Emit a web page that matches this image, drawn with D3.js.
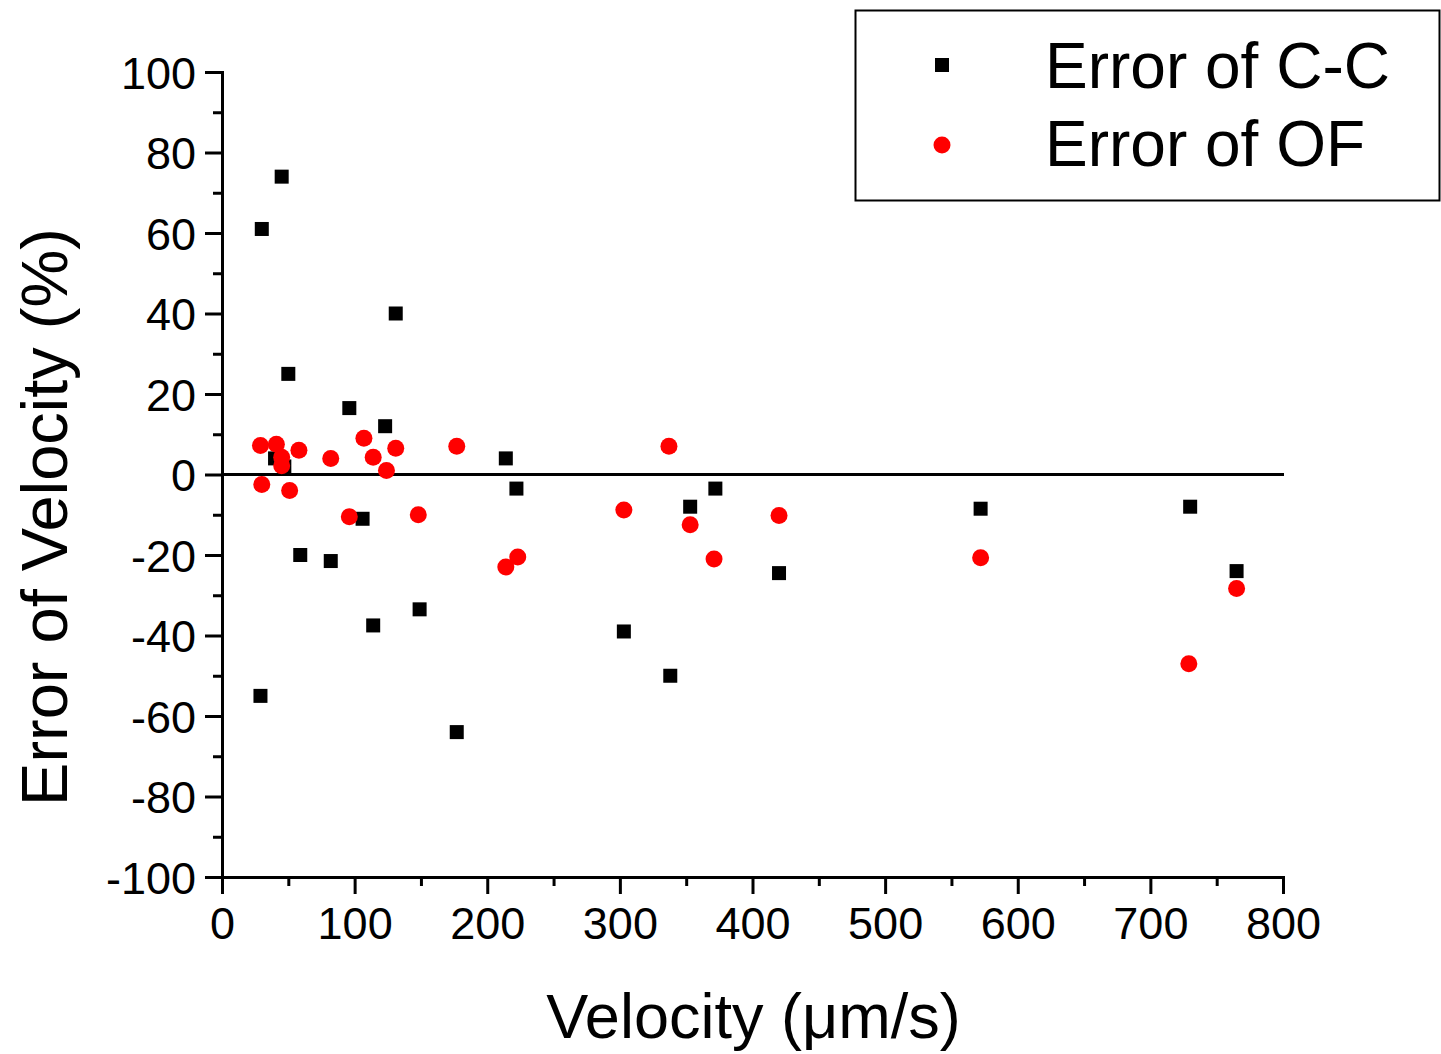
<!DOCTYPE html>
<html>
<head>
<meta charset="utf-8">
<script src="https://cdn.jsdelivr.net/npm/d3@7"></script>
<style>
  body { margin: 0; background: #fff; }
  text { font-family: "Liberation Sans", Arial, sans-serif; }
</style>
</head>
<body>
<script>
// data
var ccVelocity = [30, 45, 131, 50, 96, 123, 40, 47, 214, 222, 106, 59, 82, 114, 149, 29, 177, 303, 338, 353, 372, 420, 572, 730, 765];
var ccError    = [61, 74, 40, 25, 16.5, 12, 4, 2, 4, -3.5, -11, -20, -21.5, -37.5, -33.5, -55, -64, -39, -50, -8, -3.5, -24.5, -8.5, -8, -24];

var ofVelocity = [29, 41, 45, 45, 58, 82, 107, 114, 124, 131, 177, 30, 51, 96, 148, 337, 303, 353, 420, 223, 214, 371, 572, 729, 765];
var ofError    = [7.2, 7.5, 4.3, 2.2, 6, 4, 9, 4.3, 1, 6.5, 7, -2.5, -4, -10.5, -10, 7, -8.8, -12.5, -10.2, -20.5, -23, -21, -20.7, -47, -28.3];

var xTicks = [0, 100, 200, 300, 400, 500, 600, 700, 800];
var yTicks = [-100, -80, -60, -40, -20, 0, 20, 40, 60, 80, 100];
var legendLabels = ["Error of C-C", "Error of OF"];

var margin = {top: 72, right: 158, bottom: 177, left: 222},
    width = 1441 - margin.left - margin.right,
    height = 1054 - margin.top - margin.bottom;

var svg = d3.select("body").append("svg")
    .attr("width", 1441)
    .attr("height", 1054);

var g = svg.append("g")
    .attr("transform", "translate(" + margin.left + "," + margin.top + ")");

// scales
var x = d3.scaleLinear().domain([0, 800]).range([0, width]);
var y = d3.scaleLinear().domain([-100, 100]).range([height, 0]);

// minor ticks first, majors on top
g.append("g")
    .attr("class", "axis")
    .attr("transform", "translate(0," + height + ")")
    .call(d3.axisBottom(x).tickValues(d3.range(50, 800, 100)).tickSize(9).tickFormat(""));

g.append("g")
    .attr("class", "axis")
    .call(d3.axisLeft(y).tickValues(d3.range(-90, 100, 20)).tickSize(9).tickFormat(""));

// plain hyphen for negatives, like the original
var plain = function(d) { return String(d); };

var xAxis = g.append("g")
    .attr("class", "axis")
    .attr("transform", "translate(0," + height + ")")
    .call(d3.axisBottom(x).tickValues(xTicks).tickSize(17).tickPadding(12).tickFormat(plain));

var yAxis = g.append("g")
    .attr("class", "axis")
    .call(d3.axisLeft(y).tickValues(yTicks).tickSize(17).tickPadding(9).tickFormat(plain));

g.selectAll(".axis path.domain").attr("stroke", "#000").attr("stroke-width", 3);
g.selectAll(".axis .tick line").attr("stroke", "#000").attr("stroke-width", 3);
g.selectAll(".axis .tick text")
    .style("font-size", "45px")
    .attr("fill", "#000");
yAxis.selectAll(".tick text").attr("dy", "0.36em");
xAxis.selectAll(".tick text").attr("dy", "0.74em");

// zero line
g.append("line")
    .attr("x1", 0).attr("x2", x(800) + 1)
    .attr("y1", y(0)).attr("y2", y(0))
    .attr("stroke", "#000").attr("stroke-width", 3);

// axis titles
svg.append("text")
    .attr("x", margin.left + width / 2 + 1)
    .attr("y", 1038)
    .attr("text-anchor", "middle")
    .style("font-size", "63px")
    .text("Velocity (\u03bcm/s)");

svg.append("text")
    .attr("transform", "translate(67," + 517 + ") rotate(-90)")
    .attr("text-anchor", "middle")
    .style("font-size", "65px")
    .text("Error of Velocity (%)");

// points
var sq = 14;
g.selectAll(".cc")
    .data(ccVelocity)
    .enter().append("rect")
    .attr("class", "cc")
    .attr("x", function(d) { return x(d) - sq / 2; })
    .attr("y", function(d, i) { return y(ccError[i]) - sq / 2; })
    .attr("width", sq).attr("height", sq)
    .attr("fill", "#000");

g.selectAll(".of")
    .data(ofVelocity)
    .enter().append("circle")
    .attr("class", "of")
    .attr("cx", function(d) { return x(d); })
    .attr("cy", function(d, i) { return y(ofError[i]); })
    .attr("r", 8.5)
    .attr("fill", "#ff0000");

// legend
var legend = svg.append("g");
legend.append("rect")
    .attr("x", 855.5).attr("y", 10.5)
    .attr("width", 584).attr("height", 190)
    .attr("fill", "#fff").attr("stroke", "#000").attr("stroke-width", 2);

legend.append("rect")
    .attr("x", 942 - sq / 2).attr("y", 65 - sq / 2)
    .attr("width", sq).attr("height", sq)
    .attr("fill", "#000");
legend.append("circle")
    .attr("cx", 942).attr("cy", 145).attr("r", 8.5)
    .attr("fill", "#ff0000");

legend.selectAll(".ltext")
    .data(legendLabels)
    .enter().append("text")
    .attr("class", "ltext")
    .attr("x", 1045)
    .attr("y", function(d, i) { return 88 + i * 78; })
    .style("font-size", "64px")
    .text(function(d) { return d; });
</script>
</body>
</html>
